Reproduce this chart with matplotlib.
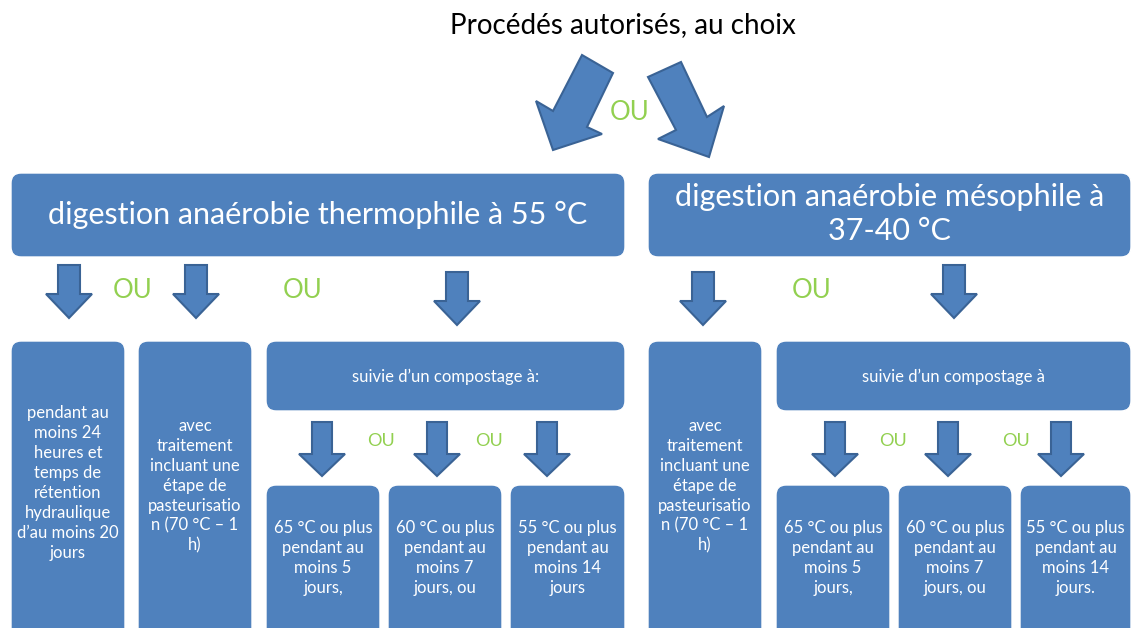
import matplotlib
matplotlib.use("Agg")
import matplotlib.pyplot as plt
from matplotlib.patches import FancyBboxPatch, Polygon

# ---- content ----
title = "Procédés autorisés, au choix"
main_labels = ["digestion anaérobie thermophile à 55 °C",
               "digestion anaérobie mésophile à\n37-40 °C"]
tall_labels = ["pendant au\nmoins 24\nheures et\ntemps de\nrétention\nhydraulique\nd’au moins 20\njours",
               "avec\ntraitement\nincluant une\nétape de\npasteurisatio\nn (70 °C – 1\nh)",
               "avec\ntraitement\nincluant une\nétape de\npasteurisatio\nn (70 °C – 1\nh)"]
compost_labels = ["suivie d’un compostage à:", "suivie d’un compostage à"]
left_small = ["65 °C ou plus\npendant au\nmoins 5\njours,",
              "60 °C ou plus\npendant au\nmoins 7\njours, ou",
              "55 °C ou plus\npendant au\nmoins 14\njours"]
right_small = ["65 °C ou plus\npendant au\nmoins 5\njours,",
               "60 °C ou plus\npendant au\nmoins 7\njours, ou",
               "55 °C ou plus\npendant au\nmoins 14\njours."]
or_word = "OU"

BLUE = "#4F81BD"
EDGE = "#3A6395"
GREEN = "#92D050"
FONT = ["Lato", "DejaVu Sans"]

fig = plt.figure(figsize=(11.32, 6.28), dpi=100)
ax = fig.add_axes([0, 0, 1, 1])
ax.set_xlim(0, 1132)
ax.set_ylim(628, 0)
ax.axis("off")


def box(x0, y0, x1, y1, text=None, fs=12, ty=None, ls=1.2):
    p = FancyBboxPatch((x0, y0), x1 - x0, y1 - y0,
                       boxstyle="round,pad=0,rounding_size=10",
                       fc=BLUE, ec="white", lw=1)
    ax.add_patch(p)
    if text:
        ax.text((x0 + x1) / 2, ty if ty is not None else (y0 + y1) / 2, text,
                ha="center", va="center", multialignment="center",
                color="white", fontsize=fs, family=FONT, linespacing=ls)


def down_arrow(cx, top, bottom, shaft=22, head=46, headlen=24):
    hs, hh = shaft / 2, head / 2
    pts = [(cx - hs, top), (cx + hs, top), (cx + hs, bottom - headlen),
           (cx + hh, bottom - headlen), (cx, bottom), (cx - hh, bottom - headlen),
           (cx - hs, bottom - headlen)]
    ax.add_patch(Polygon(pts, closed=True, fc=BLUE, ec=EDGE, lw=1.5, joinstyle="miter"))


def ou(x, y, fs):
    ax.text(x, y, or_word, ha="center", va="center", color=GREEN, fontsize=fs, family=FONT)


# title
ax.text(623, 25, title, ha="center", va="center", fontsize=20, family=FONT, color="black")

# top diagonal arrows
left_arrow = [(582, 55), (613, 73), (587, 127), (602, 134), (553, 150), (536, 101), (553, 111)]
right_arrow = [(648, 77), (681, 62), (707, 117), (724, 106), (709, 157), (658, 139), (676, 130)]
for pts in (left_arrow, right_arrow):
    ax.add_patch(Polygon(pts, closed=True, fc=BLUE, ec=EDGE, lw=1.5))
ou(630, 113, 18.5)

# main boxes
box(11, 173, 625, 257, main_labels[0], fs=22, ty=215)
box(648, 173, 1131, 257, main_labels[1], fs=22, ty=214, ls=1.28)

# second-row arrows
down_arrow(69, 265, 318)
down_arrow(196, 265, 318)
down_arrow(457, 272, 325)
down_arrow(703, 272, 325)
down_arrow(954, 265, 318)
ou(133, 291, 18.5)
ou(303, 291, 18.5)
ou(812, 291, 18.5)

# tall boxes
box(11, 341, 125, 640, tall_labels[0], fs=12, ty=483, ls=1.3)
box(138, 341, 252, 640, tall_labels[1], fs=12, ty=486, ls=1.3)
box(648, 341, 762, 640, tall_labels[2], fs=12, ty=486, ls=1.3)

# compost boxes
box(266, 341, 625, 411, compost_labels[0], fs=12, ty=377)
box(776, 341, 1131, 411, compost_labels[1], fs=12, ty=377)

# small arrows
for cx in (322, 437, 547, 835, 948, 1061):
    down_arrow(cx, 422, 476, shaft=20, head=46, headlen=22)
ou(381, 441, 13)
ou(489, 441, 13)
ou(893, 441, 13)
ou(1016, 441, 13)

# small boxes
lx = [(266, 380), (388, 502), (510, 625)]
rx = [(776, 890), (898, 1012), (1020, 1131)]
for (x0, x1), t in zip(lx, left_small):
    box(x0, 485, x1, 640, t, fs=12, ty=558, ls=1.3)
for (x0, x1), t in zip(rx, right_small):
    box(x0, 485, x1, 640, t, fs=12, ty=558, ls=1.3)

fig.savefig("out.png", dpi=100, facecolor="white")
